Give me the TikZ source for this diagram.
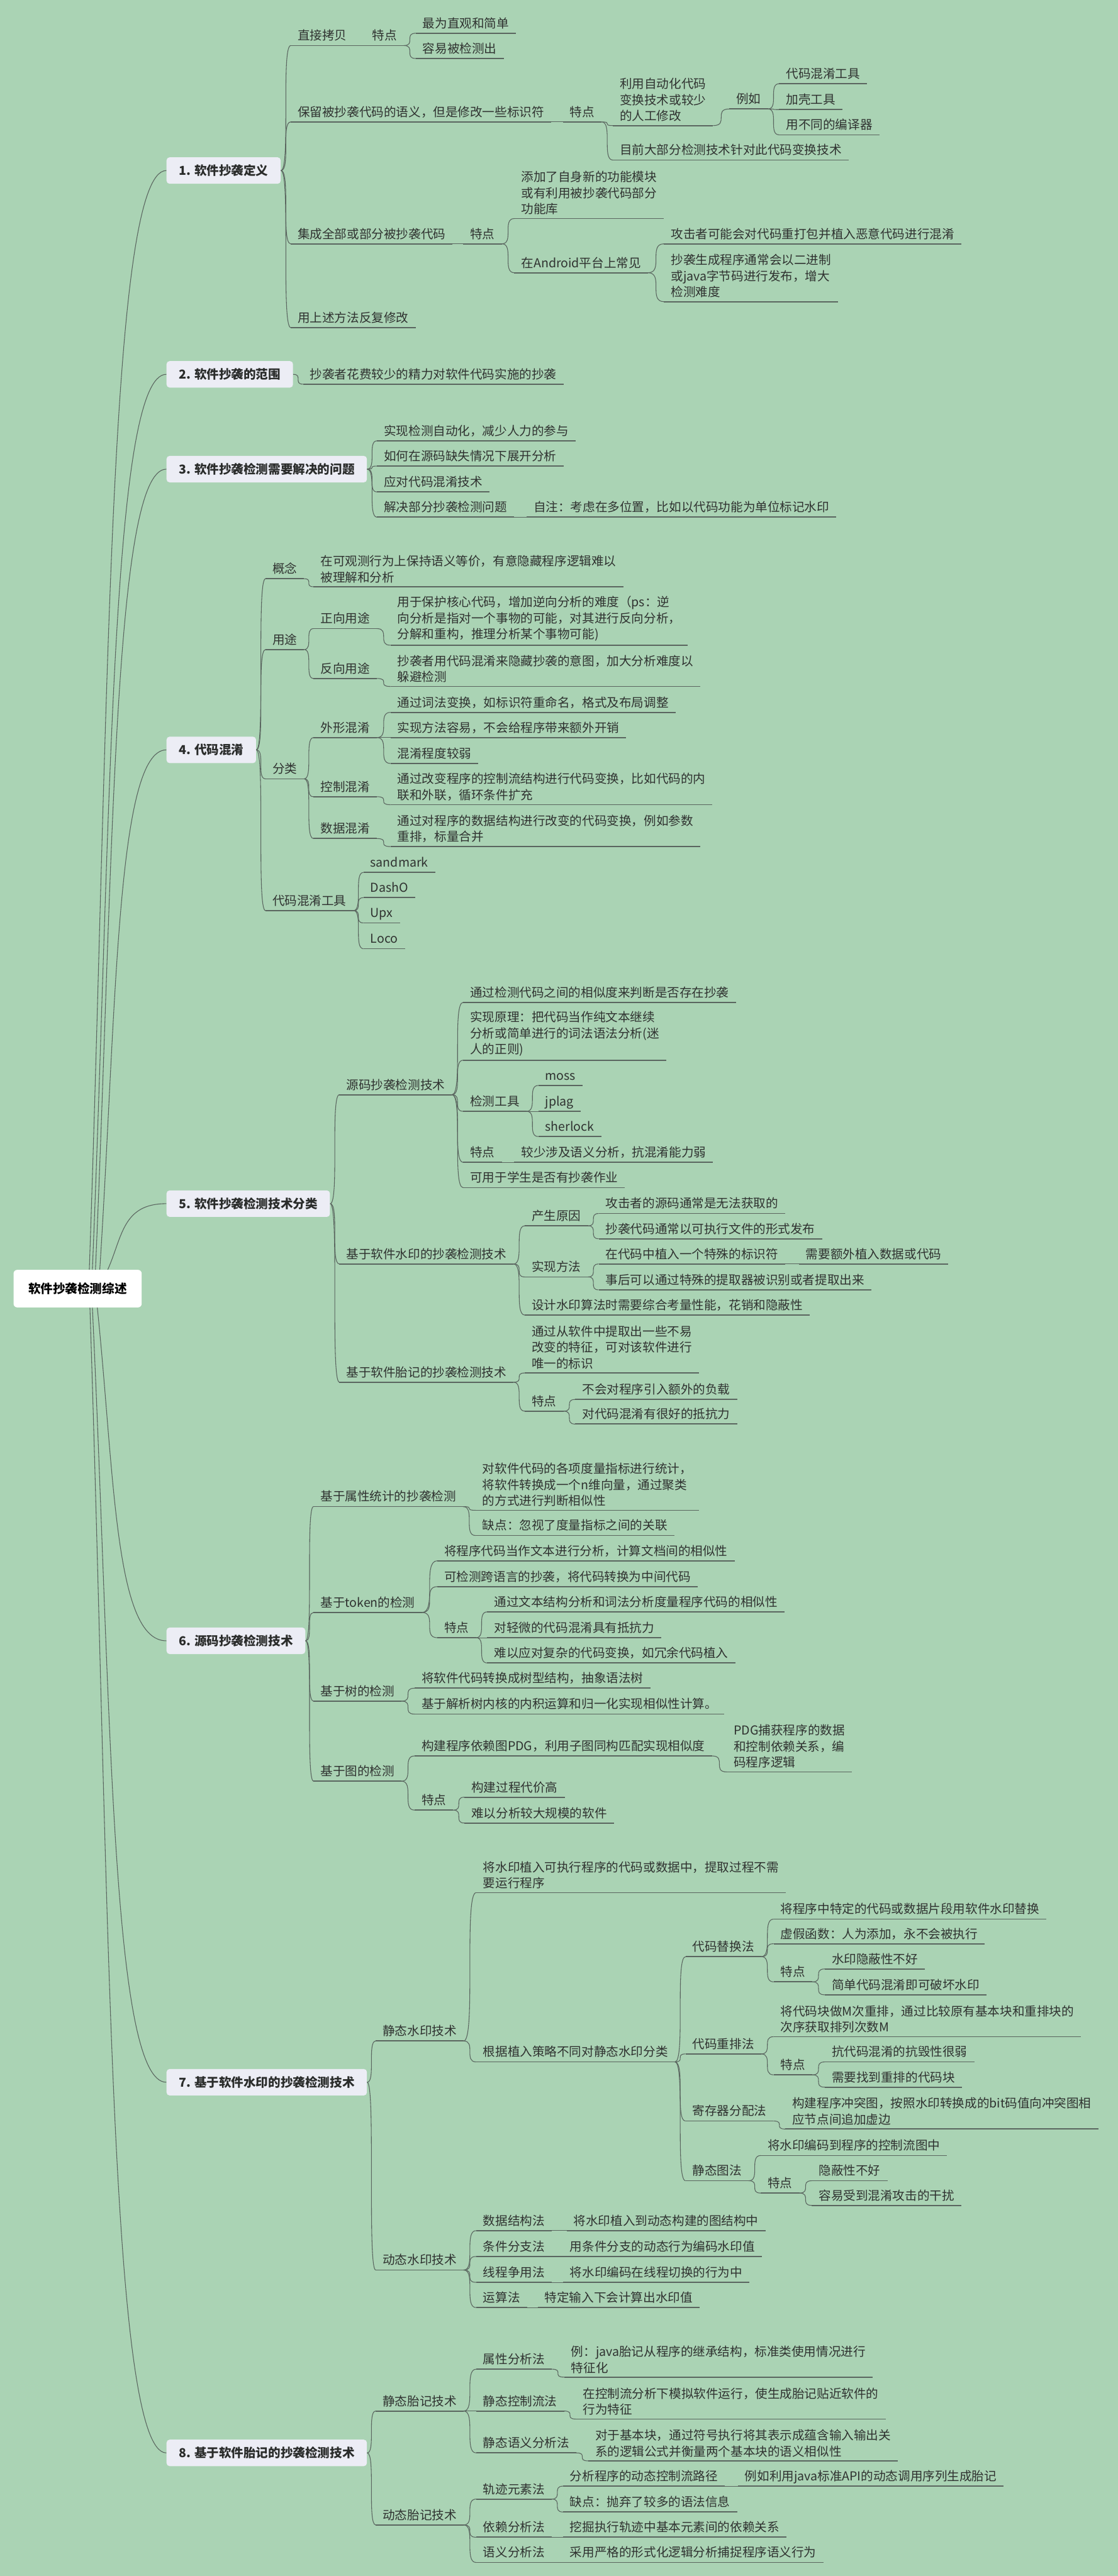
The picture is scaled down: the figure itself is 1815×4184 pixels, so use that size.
\documentclass[tikz,border=0pt]{standalone}
\usepackage{fontspec}
\setmainfont{Noto Sans CJK SC}
\usetikzlibrary{calc}
\definecolor{bg}{HTML}{AAD3B4}
\definecolor{boxc}{HTML}{ECEDF5}
\definecolor{ln}{HTML}{5A655F}
\definecolor{txt}{HTML}{2F3230}
\definecolor{boxt}{HTML}{2A2C2B}
\newcommand\mmfs{\fontsize{10}{13}\selectfont}
\tikzset{
  base/.style={anchor=south west, inner xsep=5.5pt, inner ysep=3pt, font=\mmfs, text=txt,
    append after command={(\tikzlastnode.south west) edge[ul] (\tikzlastnode.south east)}},
  tp/.style={base, text depth=1.2pt},
  tm/.style={base, align=left},
  ul/.style={draw=ln, line width=0.9pt},
  bx/.style={anchor=west, fill=boxc, rounded corners=2.5pt, inner xsep=10pt, minimum height=21.5pt, font=\mmfs\bfseries, text=boxt},
  rt/.style={fill=white, rounded corners=3pt, minimum width=104pt, minimum height=30.5pt, font=\mmfs\bfseries, text=black},
  cn/.style={draw=ln, line width=0.55pt, to path={let \p1=(\tikztostart), \p2=(\tikztotarget) in .. controls (\x2,\y1) and (\x1,\y2) .. (\tikztotarget)}},
  rc/.style={draw=ln, line width=0.55pt, to path={let \p1=(\tikztostart), \p2=(\tikztotarget) in .. controls ({\x1+0.25*(\x2-\x1)},{0.5*(\y1+\y2)}) and ({\x1+0.25*(\x2-\x1)},\y2) .. (\tikztotarget)}}
}
\begin{document}
\begin{tikzpicture}[x=0.5pt,y=-0.5pt]
\fill[bg] (0,0) rectangle (1815,4184);
\useasboundingbox (0,0) rectangle (1815,4184);

% root
\node[rt] (root) at (126,2093) {软件抄袭检测综述};

% boxes
\node[bx] (b1) at (270,277) {1. 软件抄袭定义};
\node[bx] (b2) at (270,608) {2. 软件抄袭的范围};
\node[bx] (b3) at (270,762) {3. 软件抄袭检测需要解决的问题};
\node[bx] (b4) at (270,1218) {4. 代码混淆};
\node[bx] (b5) at (270,1955) {5. 软件抄袭检测技术分类};
\node[bx] (b6) at (270,2665) {6. 源码抄袭检测技术};
\node[bx] (b7) at (270,3382) {7. 基于软件水印的抄袭检测技术};
\node[bx] (b8) at (270,3984) {8. 基于软件胎记的抄袭检测技术};

% 1
\node[tp] (a1) at (472,74) {直接拷贝};
\node[tp] (a1t) at (593,74) {特点};
\node[tp] (a1t1) at (675,54) {最为直观和简单};
\node[tp] (a1t2) at (675,95) {容易被检测出};
\node[tp] (a2) at (472,198) {保留被抄袭代码的语义，但是修改一些标识符};
\node[tp] (a2t) at (914,198) {特点};
\node[tm] (a2t1) at (995,204) {利用自动化代码\\变换技术或较少\\的人工修改};
\node[tp] (a2e) at (1184,177) {例如};
\node[tp] (a2e1) at (1265,136) {代码混淆工具};
\node[tp] (a2e2) at (1265,178) {加壳工具};
\node[tp] (a2e3) at (1265,219) {用不同的编译器};
\node[tp] (a2t2) at (995,260) {目前大部分检测技术针对此代码变换技术};
\node[tp] (a3) at (472,396) {集成全部或部分被抄袭代码};
\node[tp] (a3t) at (752,396) {特点};
\node[tm] (a3t1) at (835,355) {添加了自身新的功能模块\\或有利用被抄袭代码部分\\功能库};
\node[tp] (a3t2) at (835,443) {在Android平台上常见};
\node[tp] (a3a1) at (1078,396) {攻击者可能会对代码重打包并植入恶意代码进行混淆};
\node[tm] (a3a2) at (1078,490) {抄袭生成程序通常会以二进制\\或java字节码进行发布，增大\\检测难度};
\node[tp] (a4) at (472,532) {用上述方法反复修改};

% 2
\node[tp] (c1) at (492,624) {抄袭者花费较少的精力对软件代码实施的抄袭};

% 3
\node[tp] (d1) at (612,716) {实现检测自动化，减少人力的参与};
\node[tp] (d2) at (612,757) {如何在源码缺失情况下展开分析};
\node[tp] (d3) at (612,799) {应对代码混淆技术};
\node[tp] (d4) at (612,840) {解决部分抄袭检测问题};
\node[tp] (d4a) at (855,840) {自注：考虑在多位置，比如以代码功能为单位标记水印};

% 4
\node[tp] (e1) at (431,940) {概念};
\node[tm] (e1a) at (509,953) {在可观测行为上保持语义等价，有意隐藏程序逻辑难以\\被理解和分析};
\node[tp] (e2) at (431,1055) {用途};
\node[tp] (e2a) at (509,1021) {正向用途};
\node[tm] (e2a1) at (634,1048) {用于保护核心代码，增加逆向分析的难度（ps：逆\\向分析是指对一个事物的可能，对其进行反向分析，\\分解和重构，推理分析某个事物可能)};
\node[tp] (e2b) at (509,1102) {反向用途};
\node[tm] (e2b1) at (634,1115) {抄袭者用代码混淆来隐藏抄袭的意图，加大分析难度以\\躲避检测};
\node[tp] (e3) at (431,1265) {分类};
\node[tp] (e3a) at (509,1198) {外形混淆};
\node[tp] (e3a1) at (634,1157) {通过词法变换，如标识符重命名，格式及布局调整};
\node[tp] (e3a2) at (634,1198) {实现方法容易，不会给程序带来额外开销};
\node[tp] (e3a3) at (634,1240) {混淆程度较弱};
\node[tp] (e3b) at (509,1294) {控制混淆};
\node[tm] (e3b1) at (634,1307) {通过改变程序的控制流结构进行代码变换，比如代码的内\\联和外联，循环条件扩充};
\node[tp] (e3c) at (509,1362) {数据混淆};
\node[tm] (e3c1) at (634,1375) {通过对程序的数据结构进行改变的代码变换，例如参数\\重排，标量合并};
\node[tp] (e4) at (431,1479) {代码混淆工具};
\node[tp] (e4a) at (590,1417) {sandmark};
\node[tp] (e4b) at (590,1458) {DashO};
\node[tp] (e4c) at (590,1499) {Upx};
\node[tp] (e4d) at (590,1541) {Loco};

% 5
\node[tp] (f1) at (551,1778) {源码抄袭检测技术};
\node[tp] (f1a) at (752,1628) {通过检测代码之间的相似度来判断是否存在抄袭};
\node[tm] (f1b) at (752,1722) {实现原理：把代码当作纯文本继续\\分析或简单进行的词法语法分析(迷\\人的正则)};
\node[tp] (f1c) at (752,1805) {检测工具};
\node[tp] (f1c1) at (874,1763) {moss};
\node[tp] (f1c2) at (874,1805) {jplag};
\node[tp] (f1c3) at (874,1846) {sherlock};
\node[tp] (f1d) at (752,1888) {特点};
\node[tp] (f1d1) at (835,1888) {较少涉及语义分析，抗混淆能力弱};
\node[tp] (f1e) at (752,1929) {可用于学生是否有抄袭作业};
\node[tp] (f2) at (551,2053) {基于软件水印的抄袭检测技术};
\node[tp] (f2a) at (852,1991) {产生原因};
\node[tp] (f2a1) at (972,1971) {攻击者的源码通常是无法获取的};
\node[tp] (f2a2) at (972,2012) {抄袭代码通常以可执行文件的形式发布};
\node[tp] (f2b) at (852,2074) {实现方法};
\node[tp] (f2b1) at (972,2053) {在代码中植入一个特殊的标识符};
\node[tp] (f2b1a) at (1297,2053) {需要额外植入数据或代码};
\node[tp] (f2b2) at (972,2095) {事后可以通过特殊的提取器被识别或者提取出来};
\node[tp] (f2c) at (852,2136) {设计水印算法时需要综合考量性能，花销和隐蔽性};
\node[tp] (f3) at (551,2245) {基于软件胎记的抄袭检测技术};
\node[tm] (f3a) at (852,2230) {通过从软件中提取出一些不易\\改变的特征，可对该软件进行\\唯一的标识};
\node[tp] (f3b) at (852,2292) {特点};
\node[tp] (f3b1) at (934,2273) {不会对程序引入额外的负载};
\node[tp] (f3b2) at (934,2313) {对代码混淆有很好的抵抗力};

% 6
\node[tp] (g1) at (509,2447) {基于属性统计的抄袭检测};
\node[tm] (g1a) at (772,2453) {对软件代码的各项度量指标进行统计，\\将软件转换成一个n维向量，通过聚类\\的方式进行判断相似性};
\node[tp] (g1b) at (772,2494) {缺点：忽视了度量指标之间的关联};
\node[tp] (g2) at (509,2619) {基于token的检测};
\node[tp] (g2a) at (710,2535) {将程序代码当作文本进行分析，计算文档间的相似性};
\node[tp] (g2b) at (710,2577) {可检测跨语言的抄袭，将代码转换为中间代码};
\node[tp] (g2c) at (710,2660) {特点};
\node[tp] (g2c1) at (791,2618) {通过文本结构分析和词法分析度量程序代码的相似性};
\node[tp] (g2c2) at (791,2660) {对轻微的代码混淆具有抵抗力};
\node[tp] (g2c3) at (791,2701) {难以应对复杂的代码变换，如冗余代码植入};
\node[tp] (g3) at (509,2763) {基于树的检测};
\node[tp] (g3a) at (673,2742) {将软件代码转换成树型结构，抽象语法树};
\node[tp] (g3b) at (673,2784) {基于解析树内核的内积运算和归一化实现相似性计算。};
\node[tp] (g4) at (509,2893) {基于图的检测};
\node[tp] (g4a) at (673,2852) {构建程序依赖图PDG，利用子图同构匹配实现相似度};
\node[tm] (g4a1) at (1180,2878) {PDG捕获程序的数据\\和控制依赖关系，编\\码程序逻辑};
\node[tp] (g4b) at (673,2940) {特点};
\node[tp] (g4b1) at (754,2919) {构建过程代价高};
\node[tp] (g4b2) at (754,2961) {难以分析较大规模的软件};

% 7
\node[tp] (h1) at (610,3315) {静态水印技术};
\node[tm] (h1a) at (773,3074) {将水印植入可执行程序的代码或数据中，提取过程不需\\要运行程序};
\node[tp] (h1b) at (773,3349) {根据植入策略不同对静态水印分类};
\node[tp] (h1b1) at (1113,3178) {代码替换法};
\node[tp] (h1b1a) at (1256,3117) {将程序中特定的代码或数据片段用软件水印替换};
\node[tp] (h1b1b) at (1256,3157) {虚假函数：人为添加，永不会被执行};
\node[tp] (h1b1c) at (1256,3219) {特点};
\node[tp] (h1b1c1) at (1339,3198) {水印隐蔽性不好};
\node[tp] (h1b1c2) at (1339,3240) {简单代码混淆即可破坏水印};
\node[tp] (h1b2) at (1113,3336) {代码重排法};
\node[tm] (h1b2a) at (1256,3308) {将代码块做M次重排，通过比较原有基本块和重排块的\\次序获取排列次数M};
\node[tp] (h1b2b) at (1256,3370) {特点};
\node[tp] (h1b2b1) at (1339,3349) {抗代码混淆的抗毁性很弱};
\node[tp] (h1b2b2) at (1339,3390) {需要找到重排的代码块};
\node[tp] (h1b3) at (1113,3445) {寄存器分配法};
\node[tm] (h1b3a) at (1275,3458) {构建程序冲突图，按照水印转换成的bit码值向冲突图相\\应节点间追加虚边};
\node[tp] (h1b4) at (1113,3542) {静态图法};
\node[tp] (h1b4a) at (1235,3501) {将水印编码到程序的控制流图中};
\node[tp] (h1b4b) at (1235,3562) {特点};
\node[tp] (h1b4b1) at (1318,3542) {隐蔽性不好};
\node[tp] (h1b4b2) at (1318,3582) {容易受到混淆攻击的干扰};
\node[tp] (h2) at (610,3687) {动态水印技术};
\node[tp] (h2a) at (773,3623) {数据结构法};
\node[tp] (h2a1) at (920,3623) {将水印植入到动态构建的图结构中};
\node[tp] (h2b) at (773,3665) {条件分支法};
\node[tp] (h2b1) at (914,3665) {用条件分支的动态行为编码水印值};
\node[tp] (h2c) at (773,3707) {线程争用法};
\node[tp] (h2c1) at (914,3707) {将水印编码在线程切换的行为中};
\node[tp] (h2d) at (773,3748) {运算法};
\node[tp] (h2d1) at (873,3748) {特定输入下会计算出水印值};

% 8
\node[tp] (k1) at (610,3916) {静态胎记技术};
\node[tp] (k1a) at (773,3848) {属性分析法};
\node[tm] (k1a1) at (916,3861) {例：java胎记从程序的继承结构，标准类使用情况进行\\特征化};
\node[tp] (k1b) at (773,3916) {静态控制流法};
\node[tm] (k1b1) at (935,3929) {在控制流分析下模拟软件运行，使生成胎记贴近软件的\\行为特征};
\node[tp] (k1c) at (773,3984) {静态语义分析法};
\node[tm] (k1c1) at (955,3997) {对于基本块，通过符号执行将其表示成蕴含输入输出关\\系的逻辑公式并衡量两个基本块的语义相似性};
\node[tp] (k2) at (610,4101) {动态胎记技术};
\node[tp] (k2a) at (773,4059) {轨迹元素法};
\node[tp] (k2a1) at (914,4038) {分析程序的动态控制流路径};
\node[tp] (k2a1a) at (1198,4038) {例如利用java标准API的动态调用序列生成胎记};
\node[tp] (k2a2) at (914,4080) {缺点：抛弃了较多的语法信息};
\node[tp] (k2b) at (773,4121) {依赖分析法};
\node[tp] (k2b1) at (914,4121) {挖掘执行轨迹中基本元素间的依赖关系};
\node[tp] (k2c) at (773,4162) {语义分析法};
\node[tp] (k2c1) at (914,4162) {采用严格的形式化逻辑分析捕捉程序语义行为};

% root connectors
\draw[rc] ([xshift=9.5pt]root.north) to (b1.west);
\draw[rc] ([xshift=12pt]root.north) to (b2.west);
\draw[rc] ([xshift=14.5pt]root.north) to (b3.west);
\draw[rc] ([xshift=18pt]root.north) to (b4.west);
\draw[rc] ([xshift=24.5pt]root.north) to (b5.west);
\draw[rc] ([xshift=16pt]root.south) to (b6.west);
\draw[rc] ([xshift=12pt]root.south) to (b7.west);
\draw[rc] ([xshift=10pt]root.south) to (b8.west);

% box connectors
\foreach \p/\c in {b1/a1,b1/a2,b1/a3,b1/a4,b2/c1,b3/d1,b3/d2,b3/d3,b3/d4,
  b4/e1,b4/e2,b4/e3,b4/e4,b5/f1,b5/f2,b5/f3,b6/g1,b6/g2,b6/g3,b6/g4,
  b7/h1,b7/h2,b8/k1,b8/k2}
  \draw[cn] (\p.east) to (\c.south west);

% topic connectors
\foreach \p/\c in {a1/a1t,a1t/a1t1,a1t/a1t2,a2/a2t,a2t/a2t1,a2t/a2t2,a2t1/a2e,a2e/a2e1,a2e/a2e2,a2e/a2e3,
  a3/a3t,a3t/a3t1,a3t/a3t2,a3t2/a3a1,a3t2/a3a2,d4/d4a,
  e1/e1a,e2/e2a,e2/e2b,e2a/e2a1,e2b/e2b1,e3/e3a,e3/e3b,e3/e3c,e3a/e3a1,e3a/e3a2,e3a/e3a3,e3b/e3b1,e3c/e3c1,
  e4/e4a,e4/e4b,e4/e4c,e4/e4d,
  f1/f1a,f1/f1b,f1/f1c,f1/f1d,f1/f1e,f1c/f1c1,f1c/f1c2,f1c/f1c3,f1d/f1d1,
  f2/f2a,f2/f2b,f2/f2c,f2a/f2a1,f2a/f2a2,f2b/f2b1,f2b/f2b2,f2b1/f2b1a,
  f3/f3a,f3/f3b,f3b/f3b1,f3b/f3b2,
  g1/g1a,g1/g1b,g2/g2a,g2/g2b,g2/g2c,g2c/g2c1,g2c/g2c2,g2c/g2c3,g3/g3a,g3/g3b,
  g4/g4a,g4/g4b,g4a/g4a1,g4b/g4b1,g4b/g4b2,
  h1/h1a,h1/h1b,h1b/h1b1,h1b/h1b2,h1b/h1b3,h1b/h1b4,h1b1/h1b1a,h1b1/h1b1b,h1b1/h1b1c,
  h1b1c/h1b1c1,h1b1c/h1b1c2,h1b2/h1b2a,h1b2/h1b2b,h1b2b/h1b2b1,h1b2b/h1b2b2,h1b3/h1b3a,
  h1b4/h1b4a,h1b4/h1b4b,h1b4b/h1b4b1,h1b4b/h1b4b2,
  h2/h2a,h2/h2b,h2/h2c,h2/h2d,h2a/h2a1,h2b/h2b1,h2c/h2c1,h2d/h2d1,
  k1/k1a,k1/k1b,k1/k1c,k1a/k1a1,k1b/k1b1,k1c/k1c1,
  k2/k2a,k2/k2b,k2/k2c,k2a/k2a1,k2a/k2a2,k2a1/k2a1a,k2b/k2b1,k2c/k2c1}
  \draw[cn] (\p.south east) to (\c.south west);
\end{tikzpicture}
\end{document}
